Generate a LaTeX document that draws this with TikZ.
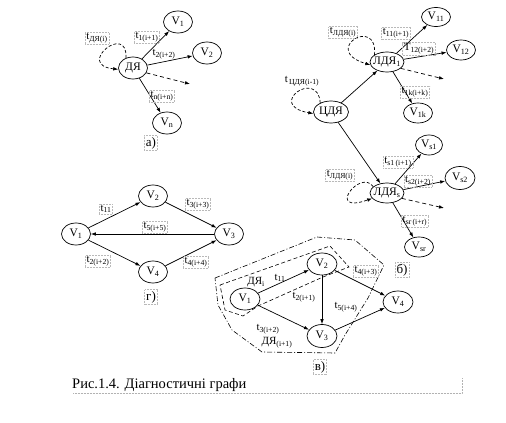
\documentclass[tikz,border=0pt]{standalone}
\usepackage{fontspec}
\setmainfont{Liberation Serif}
\usetikzlibrary{shapes.geometric,arrows.meta}
\newcommand\zb[1]{\makebox[0pt]{#1}}
\begin{document}
\begin{tikzpicture}[x=1pt,y=-1pt,
  vx/.style={draw, ellipse, line width=0.7pt, inner sep=0pt, minimum width=29pt, minimum height=22pt, font=\fontsize{11.5}{12}\selectfont},
  arr/.style={line width=0.7pt, -{Latex[length=5pt,width=3.6pt]}},
  loopd/.style={arr, dash pattern=on 3pt off 2pt},
  dd/.style={arr, dash pattern=on 4pt off 3pt},
  lab/.style={font=\fontsize{11}{12}\selectfont, inner sep=1.2pt},
  bx/.style={lab, draw=gray!55, densely dotted, line width=0.5pt},
  pl/.style={font=\fontsize{13}{14}\selectfont, inner sep=1.5pt, draw=gray!55, densely dotted, line width=0.5pt},
  outl/.style={line width=0.6pt},
]
\useasboundingbox (0,0) rectangle (506,423);
\fill[white] (0,0) rectangle (506,423);

% ---------- panel a ----------
\node[vx] (dya) at (133,68) {\zb{ДЯ}};
\node[vx] (a1) at (178,22) {\zb{V\textsubscript{1}}};
\node[vx] (a2) at (207,53) {\zb{V\textsubscript{2}}};
\node[vx] (an) at (167,123) {\zb{V\textsubscript{n}}};
\coordinate (ad) at (190,84);
\draw[arr] (dya) -- (a1);
\draw[arr] (dya) -- (a2);
\draw[arr] (dya) -- (an);
\draw[dd] (dya.-20) -- (ad);
\draw[loopd] (dya.125) .. controls (128,22) and (75,65) .. (dya.185);
\node[bx] (la0) at (97,38) {t\textsubscript{ДЯ(i)}};
\node[bx] (la1) at (147,37) {t\textsubscript{1(i+1)}};
\node[lab] (la2) at (164,54) {t\textsubscript{2(i+2)}};
\node[bx] (lan) at (162,96) {t\textsubscript{n(i+n)}};
\node[pl] (pa) at (151,143) {а)};

% ---------- panel b ----------
\node[vx, minimum width=35pt] (cd) at (331,112) {\zb{ЦДЯ}};
\node[vx, minimum width=34pt, minimum height=20pt] (l1) at (387,62) {\zb{ЛДЯ\textsubscript{1}}};
\node[vx, minimum height=19pt] (v11) at (436,17) {\zb{V\textsubscript{11}}};
\node[vx, minimum height=20pt] (v12) at (461,50) {\zb{V\textsubscript{12}}};
\node[vx, minimum height=20pt] (v1k) at (418,113) {\zb{V\textsubscript{1k}}};
\node[vx, minimum width=34pt, minimum height=20pt] (ls) at (387,193) {\zb{ЛДЯ\textsubscript{s}}};
\node[vx, minimum width=27pt, minimum height=20pt] (vs1) at (429,145) {\zb{V\textsubscript{s1}}};
\node[vx, minimum width=30pt, minimum height=23pt] (vs2) at (460,178) {\zb{V\textsubscript{s2}}};
\node[vx, minimum height=20pt] (vsr) at (419,247) {\zb{V\textsubscript{sr}}};
\coordinate (d1) at (444,79);
\coordinate (d2) at (444,208);
\draw[arr] (cd) -- (l1);
\draw[arr] (cd) -- (ls);
\draw[arr] (l1) -- (v11);
\draw[arr] (l1) -- (v12);
\draw[arr] (l1) -- (v1k);
\draw[arr] (ls) -- (vs1);
\draw[arr] (ls) -- (vs2);
\draw[arr] (ls) -- (vsr);
\draw[dd] (l1.-25) -- (d1);
\draw[dd] (ls.-20) -- (d2);
\draw[loopd] (l1.150) .. controls (378,15) and (320,50) .. (l1.190);
\draw[loopd] (cd.140) .. controls (318,68) and (265,105) .. (cd.185);
\draw[loopd] (ls.155) .. controls (360,168) and (325,215) .. (ls.200);
\node[bx] (lb1) at (343,32) {t\textsubscript{ЛДЯ(i)}};
\node[bx] (lb2) at (396,33) {t\textsubscript{11(i+1)}};
\node[bx] (lb3) at (419,49) {T\textsubscript{12(i+2)}};
\node[bx] (lb4) at (415,92) {t\textsubscript{1k(i+k)}};
\node[lab] (lb5) at (302,81) {t\textsubscript{\,ЦДЯ(i-1)}};
\node[bx] (lb6) at (398,162) {t\textsubscript{s1\,(i+1)}};
\node[bx] (lb7) at (418,181) {t\textsubscript{s2(i+2)}};
\node[bx] (lb8) at (340,175) {t\textsubscript{ЛДЯ(i)}};
\node[bx] (lb9) at (415,221) {t\textsubscript{sr\,(i+r)}};
\node[pl] (pb) at (402,270) {б)};

% ---------- panel g ----------
\node[vx] (g1) at (76,234) {\zb{V\textsubscript{1}}};
\node[vx] (g2) at (153,196) {\zb{V\textsubscript{2}}};
\node[vx] (g3) at (229,234) {\zb{V\textsubscript{3}}};
\node[vx] (g4) at (153,272) {\zb{V\textsubscript{4}}};
\draw[arr] (g1) -- (g2);
\draw[arr] (g2) -- (g3);
\draw[arr] (g3) -- (g1);
\draw[arr] (g1) -- (g4);
\draw[arr] (g4) -- (g3);
\node[bx] (lg1) at (106,209) {t\textsubscript{11}};
\node[bx] (lg2) at (198,204) {t\textsubscript{3(i+3)}};
\node[bx] (lg3) at (155,227) {t\textsubscript{5(i+5)}};
\node[bx] (lg4) at (98,261) {t\textsubscript{2(i+2)}};
\node[bx] (lg5) at (196,262) {t\textsubscript{4(i+4)}};
\node[pl] (pg) at (151,297) {г)};

% ---------- panel v ----------
\draw[outl, dash pattern=on 5pt off 2pt on 1pt off 2pt]
  (215,278) -- (317,237) -- (355,240) -- (384,265) -- (368,298) -- (345,335)
  -- (335,353) -- (262,352) -- (232,330) -- (218,305) -- cycle;
\draw[outl, dash pattern=on 4pt off 2.5pt]
  (220,285) -- (330,246) -- (349,267) -- (323,277) -- (258,306) -- (243,316)
  -- (225,310) -- cycle;
\node[vx, minimum width=30pt] (w1) at (245,299) {\zb{V\textsubscript{1}}};
\node[vx, minimum width=30pt] (w2) at (322,264) {\zb{V\textsubscript{2}}};
\node[vx, minimum width=30pt, minimum height=23pt] (w3) at (322,336) {\zb{V\textsubscript{3}}};
\node[vx, minimum width=30pt] (w4) at (398,302) {\zb{V\textsubscript{4}}};
\draw[arr] (w1) -- (w2);
\draw[arr] (w1) -- (w3);
\draw[arr] (w2) -- (w3);
\draw[arr] (w2) -- (w4);
\draw[arr] (w3) -- (w4);
\node[lab] (lv0) at (256,282) {ДЯ\textsubscript{i}};
\node[lab] (lv1) at (280,278) {t\textsubscript{11}};
\node[lab] (lv2) at (304,297) {t\textsubscript{2(i+1)}};
\node[lab] (lv3) at (268,329) {t\textsubscript{3(i+2)}};
\node[lab] (lv4) at (277,343) {ДЯ\textsubscript{(i+1)}};
\node[bx] (lv5) at (366,271) {t\textsubscript{4(i+3)}};
\node[lab] (lv6) at (346,307) {t\textsubscript{5(i+4)}};
\node[pl] (pv) at (320,367) {в)};

% ---------- caption ----------
\node[anchor=west, font=\fontsize{14.5}{16}\selectfont, inner sep=0pt] (cap) at (72,385) {Рис.1.4. Діагностичні графи};
\draw[gray!60, densely dotted, line width=0.5pt] (73,393) -- (462,393) -- (462,378);
\end{tikzpicture}
\end{document}
